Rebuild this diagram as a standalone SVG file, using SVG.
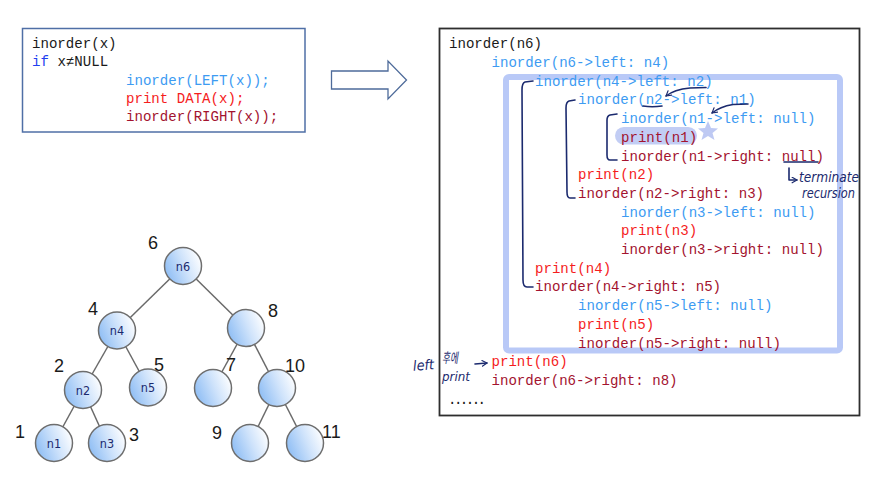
<svg xmlns="http://www.w3.org/2000/svg" width="878" height="491" viewBox="0 0 878 491">
<defs>
<linearGradient id="ng" x1="0" y1="0.7" x2="1" y2="0.3">
<stop offset="0" stop-color="#8cbcf4"/>
<stop offset="0.55" stop-color="#cfe3fb"/>
<stop offset="1" stop-color="#ffffff"/>
</linearGradient>
<marker id="ha" viewBox="0 0 10 10" refX="8" refY="5" markerWidth="7" markerHeight="7" orient="auto" markerUnits="userSpaceOnUse">
<path d="M1,1 L8,5 L1,9" fill="none" stroke="#1b2a6e" stroke-width="1.6" stroke-linecap="round" stroke-linejoin="round"/>
</marker>
</defs>
<style>
.code{font-family:"Liberation Mono","DejaVu Sans Mono",monospace;font-size:14.1px}
.blk{fill:#1a1a1a}.kw{fill:#1f3ff0}.lb{fill:#3d9bf2}.rd{fill:#f51d1d}.dr{fill:#a3132f}
.edge{stroke:#6a6a6a;stroke-width:1.5}
.node{fill:url(#ng);stroke:#6e6e6e;stroke-width:1.5}
.num{font-family:"Liberation Sans","Open Sans",sans-serif;font-size:18px;fill:#1a1a1a}
.nl{font-family:"DejaVu Sans Condensed","DejaVu Sans",sans-serif;font-size:12.5px;fill:#1b2a6e;text-anchor:middle}
.hand{fill:none;stroke:#1b2a6e;stroke-width:1.6;stroke-linecap:round;stroke-linejoin:round}
.ht{font-family:"DejaVu Sans","Noto Sans CJK KR",sans-serif;font-style:italic;fill:#1b2a6e}
</style>
<rect width="878" height="491" fill="#ffffff"/>

<!-- pseudocode box -->
<g id="code">
<rect x="22.5" y="28.5" width="282.5" height="103.5" fill="#ffffff" stroke="#4f6fa6" stroke-width="1.5"/>
<text class="code blk" x="32" y="48.3">inorder(x)</text>
<text class="code" x="32" y="66"><tspan class="kw">if</tspan><tspan class="blk"> x≠NULL</tspan></text>
<text class="code lb" x="126" y="84.7">inorder(LEFT(x));</text>
<text class="code rd" x="126" y="103">print DATA(x);</text>
<text class="code dr" x="126" y="121.3">inorder(RIGHT(x));</text>
</g>

<!-- block arrow -->
<g id="bigarrow">
<polygon points="331.5,71 388,71 388,61 406.5,80 388,99 388,89 331.5,89" fill="#ffffff" stroke="#4e6b9a" stroke-width="1.3"/>
</g>

<!-- trace box -->
<g id="trace">
<rect x="439.5" y="28.5" width="420" height="387" fill="#ffffff" stroke="#2e2e2e" stroke-width="1.8"/>
<rect x="506" y="77" width="334" height="273.5" rx="3" fill="none" stroke="#b9c9f7" stroke-width="6"/>
<rect x="615" y="127" width="82" height="17.5" rx="8.7" fill="#aebcf0" opacity="0.75"/>
<polygon points="708,121 711,128 718,128.5 712.5,133 714.5,140 708,136 701.5,140 703.5,133 698,128.5 705,128" fill="#aebcf0" opacity="0.8"/>
<text class="code blk" x="449" y="48.3">inorder(n6)</text>
<text class="code lb" x="491.5" y="67">inorder(n6-&gt;left: n4)</text>
<text class="code lb" x="535" y="85.7">inorder(n4-&gt;left: n2)</text>
<text class="code lb" x="578" y="104.4">inorder(n2-&gt;left: n1)</text>
<text class="code lb" x="621" y="123.1">inorder(n1-&gt;left: null)</text>
<text class="code dr" x="621" y="141.8">print(n1)</text>
<text class="code dr" x="621" y="160.5">inorder(n1-&gt;right: null)</text>
<text class="code rd" x="578" y="179.2">print(n2)</text>
<text class="code dr" x="578" y="197.9">inorder(n2-&gt;right: n3)</text>
<text class="code lb" x="621" y="216.6">inorder(n3-&gt;left: null)</text>
<text class="code rd" x="621" y="235.3">print(n3)</text>
<text class="code dr" x="621" y="254">inorder(n3-&gt;right: null)</text>
<text class="code rd" x="535" y="272.7">print(n4)</text>
<text class="code dr" x="535" y="291.4">inorder(n4-&gt;right: n5)</text>
<text class="code lb" x="578" y="310.1">inorder(n5-&gt;left: null)</text>
<text class="code rd" x="578" y="328.8">print(n5)</text>
<text class="code dr" x="578" y="347.5">inorder(n5-&gt;right: null)</text>
<text class="code rd" x="491.5" y="366.2">print(n6)</text>
<text class="code dr" x="491.5" y="384.9">inorder(n6-&gt;right: n8)</text>
<text class="code blk" x="448" y="403.6" textLength="38" lengthAdjust="spacing">......</text>
</g>

<!-- handwritten annotations -->
<g id="annotations">
<path class="hand" d="M533 81 L525 82 Q522 83 522 90 L523 280 Q523 287 527 287 L533 287"/>
<path class="hand" d="M575 100 L569 101 Q566 102 566 108 L567 192 Q567 198 570 198 L575 198"/>
<path class="hand" d="M617 114 L610 115 Q607 116 607 120 L607 155 Q607 160 610 160 L617 160"/>
<path class="hand" d="M706 87.5 L690 88 C680 89 671 92 666 96" marker-end="url(#ha)"/>
<path class="hand" d="M643 106 Q652 107.5 662 106"/>
<path class="hand" d="M748 104 L733 104.5 C724 106 717 109 712 113" marker-end="url(#ha)"/>
<path class="hand" d="M784 162 L818 162"/>
<path class="hand" d="M789 168 L789 180 L797 180" marker-end="url(#ha)"/>
<text class="ht" x="799" y="182" font-size="14" textLength="60" lengthAdjust="spacingAndGlyphs">terminate</text>
<text class="ht" x="802" y="198" font-size="14" textLength="53" lengthAdjust="spacingAndGlyphs">recursion</text>
<text class="ht" x="413" y="370" font-size="14" textLength="21" lengthAdjust="spacingAndGlyphs" transform="rotate(-4 423 365)">left</text>
<text class="ht" x="442" y="363" font-size="14" font-style="normal" textLength="16" lengthAdjust="spacingAndGlyphs">후에</text>
<text class="ht" x="442" y="381" font-size="13" textLength="28" lengthAdjust="spacingAndGlyphs">print</text>
<path class="hand" d="M475 364 L487 363" marker-end="url(#ha)"/>
</g>

<!-- tree connectors -->
<g id="connectors">
<line class="edge" x1="183" y1="266" x2="117" y2="330.5"/>
<line class="edge" x1="183" y1="266" x2="246" y2="328"/>
<line class="edge" x1="117" y1="330.5" x2="83" y2="390"/>
<line class="edge" x1="117" y1="330.5" x2="148" y2="387.5"/>
<line class="edge" x1="246" y1="328" x2="213" y2="388"/>
<line class="edge" x1="246" y1="328" x2="277" y2="388"/>
<line class="edge" x1="83" y1="390" x2="54" y2="443"/>
<line class="edge" x1="83" y1="390" x2="107" y2="443"/>
<line class="edge" x1="277" y1="388" x2="250" y2="443"/>
<line class="edge" x1="277" y1="388" x2="305" y2="443"/>
</g>

<!-- tree nodes -->
<g id="node-n6"><circle class="node" cx="183" cy="266" r="18.5"/><text class="nl" x="183" y="270.5">n6</text><text class="num" x="148" y="249">6</text></g>
<g id="node-n4"><circle class="node" cx="117" cy="330.5" r="18.5"/><text class="nl" x="117" y="335">n4</text><text class="num" x="88" y="315">4</text></g>
<g id="node-n8"><circle class="node" cx="246" cy="328" r="18.5"/><text class="num" x="268" y="317">8</text></g>
<g id="node-n2"><circle class="node" cx="83" cy="390" r="18.5"/><text class="nl" x="83" y="394.5">n2</text><text class="num" x="54" y="372">2</text></g>
<g id="node-n5"><circle class="node" cx="148" cy="387.5" r="18.5"/><text class="nl" x="148" y="392">n5</text><text class="num" x="154" y="371">5</text></g>
<g id="node-n7"><circle class="node" cx="213" cy="388" r="18.5"/><text class="num" x="226" y="371">7</text></g>
<g id="node-n10"><circle class="node" cx="277" cy="388" r="18.5"/><text class="num" x="285" y="372">10</text></g>
<g id="node-n1"><circle class="node" cx="54" cy="443" r="18.5"/><text class="nl" x="54" y="447.5">n1</text><text class="num" x="15" y="438">1</text></g>
<g id="node-n3"><circle class="node" cx="107" cy="443" r="18.5"/><text class="nl" x="107" y="447.5">n3</text><text class="num" x="129" y="441">3</text></g>
<g id="node-n9"><circle class="node" cx="250" cy="443" r="18.5"/><text class="num" x="212" y="439">9</text></g>
<g id="node-n11"><circle class="node" cx="305" cy="443" r="18.5"/><text class="num" x="322" y="438">11</text></g>
</svg>
